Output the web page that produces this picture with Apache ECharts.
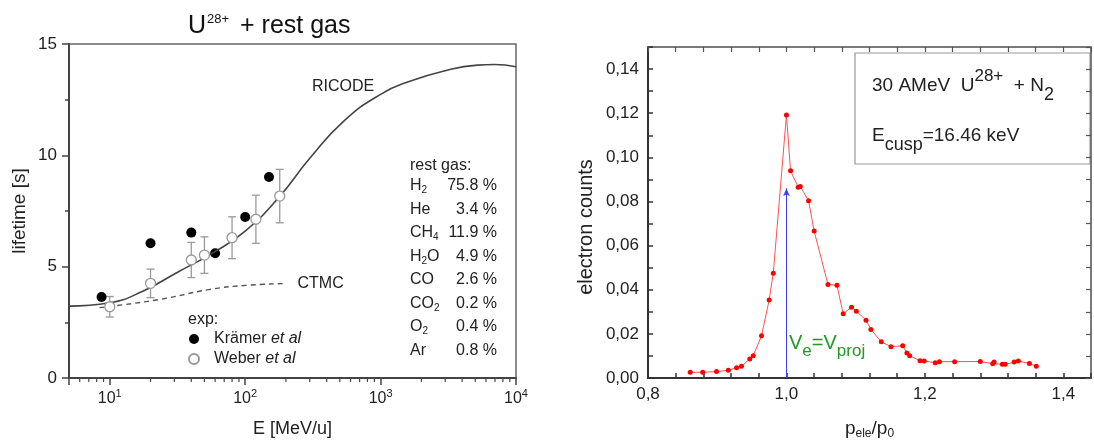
<!DOCTYPE html>
<html>
<head>
<meta charset="utf-8">
<title>lifetime and cusp</title>
<script src="https://cdn.jsdelivr.net/npm/echarts@6/dist/echarts.min.js"></script>
<style>
  html, body { margin: 0; padding: 0; background: #fff; }
  #main { width: 1094px; height: 445px; }
</style>
</head>
<body>
<div id="main"></div>
<script>
// ---- left panel: U28+ lifetime vs energy ----
var ricodeE    = [5, 10, 17.7, 31.2, 58.2, 100, 176.6, 302, 535, 1000, 1667, 2944, 5200, 6918, 10000];
var ricodeLife = [3.23, 3.38, 3.91, 4.73, 5.63, 6.6, 8.1, 9.89, 11.54, 12.74, 13.34, 13.79, 14.05, 14.08, 13.98];

var ctmcE    = [8.4, 23.4, 55, 102, 192];
var ctmcLife = [3.16, 3.53, 3.98, 4.16, 4.24];

var kraemerE    = [8.7, 20, 40, 60, 100, 150];
var kraemerLife = [3.64, 6.05, 6.53, 5.6, 7.23, 9.03];

var weberE    = [10, 20, 40, 50, 80, 120, 180];
var weberLife = [3.2, 4.25, 5.3, 5.52, 6.3, 7.13, 8.17];
var weberErr  = [0.46, 0.64, 0.79, 0.82, 0.94, 1.08, 1.2];

var gasNames   = ['H2', 'He', 'CH4', 'H2O', 'CO', 'CO2', 'O2', 'Ar'];
var gasPercent = [75.8, 3.4, 11.9, 4.9, 2.6, 0.2, 0.4, 0.8];

// log axis minor ticks (2..9 per decade)
var minorTickE = [6, 7, 8, 9, 20, 30, 40, 50, 60, 70, 80, 90,
                  200, 300, 400, 500, 600, 700, 800, 900,
                  2000, 3000, 4000, 5000, 6000, 7000, 8000, 9000];

// ---- right panel: cusp electrons ----
var pRatio = [0.861, 0.879, 0.899, 0.916, 0.928, 0.935, 0.947, 0.952, 0.964, 0.975, 0.981,
              1.0, 1.006, 1.017, 1.020, 1.032, 1.040, 1.060, 1.073, 1.082, 1.094, 1.101,
              1.115, 1.122, 1.137, 1.151, 1.168, 1.174, 1.178, 1.193, 1.199, 1.215, 1.221,
              1.243, 1.280, 1.298, 1.300, 1.312, 1.316, 1.329, 1.335, 1.351, 1.361];
var counts = [0.0026, 0.0026, 0.0029, 0.0035, 0.0047, 0.0053, 0.0086, 0.0101, 0.0191, 0.0353, 0.0475,
              0.1192, 0.0939, 0.0864, 0.0868, 0.0803, 0.0666, 0.0424, 0.0420, 0.0291, 0.0321, 0.0303,
              0.0262, 0.0220, 0.0164, 0.0142, 0.0146, 0.0113, 0.0101, 0.0078, 0.0077, 0.0069, 0.0074,
              0.0074, 0.0075, 0.0065, 0.0072, 0.0062, 0.0062, 0.0072, 0.0077, 0.0066, 0.0053];
var arrowX = 1.0;
var arrowTop = 0.086;

var FONT = '"Liberation Sans", Arial, sans-serif';

function zip(a, b) { return a.map(function (v, i) { return [v, b[i]]; }); }
function subDigits(s) { return s.replace(/(\d+)/g, '{s|$1}'); }

function renderErrorBar(params, api)
{
    var x = api.value(0);
    var lo = api.coord([x, api.value(1)]);
    var hi = api.coord([x, api.value(2)]);
    var cap = 4;
    var style = { stroke: '#9a9a9a', lineWidth: 1.3 };
    return {
        type: 'group',
        children: [
            { type: 'line', shape: { x1: lo[0], y1: lo[1], x2: hi[0], y2: hi[1] }, style: style },
            { type: 'line', shape: { x1: lo[0] - cap, y1: lo[1], x2: lo[0] + cap, y2: lo[1] }, style: style },
            { type: 'line', shape: { x1: hi[0] - cap, y1: hi[1], x2: hi[0] + cap, y2: hi[1] }, style: style }
        ]
    };
}

function renderMinorTick(params, api)
{
    var p = api.coord([api.value(0), 0]);
    return {
        type: 'line',
        shape: { x1: p[0], y1: p[1], x2: p[0], y2: p[1] + 4 },
        style: { stroke: '#444', lineWidth: 1.2 }
    };
}

function isMultiple(v, step) { var k = v / step; return Math.abs(k - Math.round(k)) < 1e-6; }

var chartDom = document.getElementById('main');
var myChart = echarts.init(chartDom, null, { renderer: 'canvas' });

// rest gas table as graphic texts
var gasGraphics = [{
    type: 'text', x: 410, y: 166,
    style: { text: 'rest gas:', fontSize: 16, fontFamily: FONT, fill: '#222', verticalAlign: 'middle' }
}];
gasNames.forEach(function (g, i) {
    var y = 186 + i * 23.5;
    gasGraphics.push({
        type: 'text', x: 410, y: y,
        style: {
            text: subDigits(g), fontSize: 16, fontFamily: FONT, fill: '#222', verticalAlign: 'middle',
            rich: { s: { fontSize: 10, fontFamily: FONT, fill: '#222', padding: [9, 0, 0, 0] } }
        }
    });
    gasGraphics.push({
        type: 'text', x: 497, y: y,
        style: { text: gasPercent[i].toFixed(1) + ' %', fontSize: 16, fontFamily: FONT, fill: '#222',
                 align: 'right', verticalAlign: 'middle' }
    });
});

var option = {
    animation: false,
    textStyle: { fontFamily: FONT },
    title: {
        text: 'U{sup|28+} + rest gas',
        left: 188, top: 13, padding: 0,
        textStyle: {
            fontSize: 25, fontWeight: 'normal', color: '#111', fontFamily: FONT,
            rich: { sup: { fontSize: 13, color: '#111', fontFamily: FONT, padding: [0, 4, 14, 1] } }
        }
    },
    legend: {
        data: ['Krämer', 'Weber'],
        orient: 'vertical',
        left: 188, top: 331, padding: 0,
        itemWidth: 10, itemHeight: 10, itemGap: 4,
        formatter: function (n) { return n + ' {i|et al}'; },
        textStyle: {
            fontSize: 16, color: '#222', fontFamily: FONT, padding: [0, 0, 0, 10],
            rich: { i: { fontStyle: 'italic', fontSize: 16, color: '#222', fontFamily: FONT } }
        }
    },
    grid: [
        { left: 69, top: 44, width: 447, height: 334, show: true, borderColor: '#666', borderWidth: 1.5, backgroundColor: 'transparent' },
        { left: 648, top: 47, width: 451, height: 331, show: true, borderColor: '#777', borderWidth: 1, backgroundColor: 'transparent' }
    ],
    xAxis: [
        {
            gridIndex: 0, type: 'log', logBase: 10, min: 5, max: 10000,
            axisLine: { lineStyle: { color: '#444', width: 2 } },
            axisTick: { inside: false, length: 7, lineStyle: { color: '#444', width: 1.5 } },
            splitLine: { show: false },
            axisLabel: {
                margin: 10, fontSize: 16, color: '#222',
                formatter: function (v) {
                    var p = Math.round(Math.log10(v));
                    return Math.abs(Math.pow(10, p) - v) < 1e-6 * v ? '10{sup|' + p + '}' : '';
                },
                rich: { sup: { fontSize: 11, color: '#222', padding: [0, 0, 10, 0] } }
            },
            name: 'E [MeV/u]', nameLocation: 'middle', nameGap: 42,
            nameTextStyle: { fontSize: 18, color: '#222' }
        },
        {
            gridIndex: 1, type: 'value', min: 0.8, max: 1.44, interval: 0.04,
            axisLine: { onZero: false, lineStyle: { color: '#333', width: 2 } },
            axisTick: { inside: true, length: 5, lineStyle: { color: '#333', width: 1.5 } },
            splitLine: { show: false },
            axisLabel: {
                margin: 8, fontSize: 17, color: '#222',
                formatter: function (v) { return isMultiple(v, 0.2) ? v.toFixed(1).replace('.', ',') : ''; }
            },
            name: 'p{s|ele}/p{s|0}', nameLocation: 'middle', nameGap: 40,
            nameTextStyle: {
                fontSize: 19, color: '#222',
                rich: { s: { fontSize: 12, color: '#222', padding: [10, 0, 0, 0] } }
            }
        },
        {
            gridIndex: 1, type: 'value', position: 'top', min: 0.8, max: 1.44, interval: 0.04,
            axisLine: { onZero: false, lineStyle: { color: '#666', width: 1.5 } },
            axisTick: { inside: true, length: 5, lineStyle: { color: '#555', width: 1.2 } },
            axisLabel: { show: false },
            splitLine: { show: false }
        }
    ],
    yAxis: [
        {
            gridIndex: 0, type: 'value', min: 0, max: 15, interval: 5,
            axisLine: { show: true, lineStyle: { color: '#444', width: 2 } },
            axisTick: { show: true, length: 7, lineStyle: { color: '#444', width: 1.5 } },
            minorTick: { show: true, splitNumber: 2, length: 4, lineStyle: { color: '#444', width: 1.5 } },
            splitLine: { show: false },
            axisLabel: { margin: 12, fontSize: 17, color: '#222' },
            name: 'lifetime [s]', nameLocation: 'middle', nameGap: 40,
            nameTextStyle: { fontSize: 19, color: '#222' }
        },
        {
            gridIndex: 1, type: 'value', min: 0, max: 0.15, interval: 0.01,
            axisLine: { show: true, onZero: false, lineStyle: { color: '#333', width: 2 } },
            axisTick: { show: true, inside: true, length: 5, lineStyle: { color: '#333', width: 1.5 } },
            splitLine: { show: false },
            axisLabel: {
                margin: 9, fontSize: 17, color: '#222',
                formatter: function (v) { return isMultiple(v, 0.02) ? v.toFixed(2).replace('.', ',') : ''; }
            }
        },
        {
            gridIndex: 1, type: 'value', position: 'right', min: 0, max: 0.15, interval: 0.01,
            axisLine: { show: true, onZero: false, lineStyle: { color: '#666', width: 1.5 } },
            axisTick: { show: true, inside: true, length: 5, lineStyle: { color: '#555', width: 1.2 } },
            axisLabel: { show: false },
            splitLine: { show: false }
        }
    ],
    graphic: [
        {
            type: 'text', x: 312, y: 87,
            style: { text: 'RICODE', fontSize: 16, fontFamily: FONT, fill: '#222', verticalAlign: 'middle' }
        },
        {
            type: 'text', x: 188, y: 320,
            style: { text: 'exp:', fontSize: 16, fontFamily: FONT, fill: '#222', verticalAlign: 'middle' }
        },
        {
            // y axis title of the right panel, placed like the original (a bit below centre)
            type: 'text', x: 586, y: 227, rotation: Math.PI / 2,
            style: { text: 'electron counts', fontSize: 20, fontFamily: FONT, fill: '#222',
                     align: 'center', verticalAlign: 'middle' }
        },
        {
            type: 'rect', shape: { x: 855, y: 53, width: 235, height: 111 },
            style: { fill: '#fff', stroke: '#999', lineWidth: 1.2 }
        },
        {
            type: 'text', x: 872, y: 86,
            style: {
                text: '30 AMeV  U{sup|28+}  + N{s|2}', fontSize: 19, fontFamily: FONT, fill: '#222', verticalAlign: 'middle',
                rich: {
                    sup: { fontSize: 17, fontFamily: FONT, fill: '#222', padding: [0, 0, 20, 0] },
                    s: { fontSize: 18, fontFamily: FONT, fill: '#222', padding: [18, 0, 0, 0] }
                }
            }
        },
        {
            type: 'text', x: 872, y: 136,
            style: {
                text: 'E{s|cusp}=16.46 keV', fontSize: 19, fontFamily: FONT, fill: '#222', verticalAlign: 'middle',
                rich: { s: { fontSize: 18, fontFamily: FONT, fill: '#222', padding: [18, 0, 0, 0] } }
            }
        },
        {
            type: 'text', x: 789, y: 343,
            style: {
                text: 'V{s|e}=V{s|proj}', fontSize: 20, fontFamily: FONT, fill: '#229922', verticalAlign: 'middle',
                rich: { s: { fontSize: 17, fontFamily: FONT, fill: '#229922', padding: [16, 0, 0, 0] } }
            }
        }
    ].concat(gasGraphics),
    series: [
        {
            name: 'RICODE', type: 'line', xAxisIndex: 0, yAxisIndex: 0,
            data: zip(ricodeE, ricodeLife),
            smooth: true, showSymbol: false, silent: true,
            lineStyle: { color: '#444', width: 1.6 }
        },
        {
            name: 'CTMC', type: 'line', xAxisIndex: 0, yAxisIndex: 0,
            data: zip(ctmcE, ctmcLife),
            smooth: true, showSymbol: false, silent: true,
            lineStyle: { color: '#555', width: 1.4, type: [5, 4] },
            endLabel: { show: true, formatter: 'CTMC', distance: 14, fontSize: 16, color: '#222', fontFamily: FONT }
        },
        {
            name: 'Weber err', type: 'custom', xAxisIndex: 0, yAxisIndex: 0,
            renderItem: renderErrorBar, silent: true,
            data: weberE.map(function (e, i) { return [e, weberLife[i] - weberErr[i], weberLife[i] + weberErr[i]]; })
        },
        {
            name: 'Krämer', type: 'scatter', xAxisIndex: 0, yAxisIndex: 0,
            data: zip(kraemerE, kraemerLife),
            symbol: 'circle', symbolSize: 10,
            itemStyle: { color: '#000', opacity: 1 }
        },
        {
            name: 'Weber', type: 'scatter', xAxisIndex: 0, yAxisIndex: 0,
            data: zip(weberE, weberLife),
            symbol: 'circle', symbolSize: 10, z: 4,
            itemStyle: { color: '#fff', borderColor: '#999', borderWidth: 1.3, opacity: 1 }
        },
        {
            name: 'minor ticks', type: 'custom', xAxisIndex: 0, yAxisIndex: 0,
            renderItem: renderMinorTick, silent: true,
            data: minorTickE.map(function (v) { return [v]; })
        },
        {
            name: 'cusp', type: 'line', xAxisIndex: 1, yAxisIndex: 1,
            data: zip(pRatio, counts),
            symbol: 'circle', symbolSize: 5, showSymbol: true,
            itemStyle: { color: '#ff0000' },
            lineStyle: { color: '#ff5050', width: 1 },
            markLine: {
                silent: true, symbol: ['none', 'arrow'], symbolSize: [5, 8],
                label: { show: false },
                lineStyle: { color: '#3c3cff', width: 1, type: 'solid' },
                data: [[{ coord: [arrowX, 0] }, { coord: [arrowX, arrowTop] }]]
            }
        }
    ]
};

myChart.setOption(option);
window.addEventListener('resize', myChart.resize);
</script>
</body>
</html>
